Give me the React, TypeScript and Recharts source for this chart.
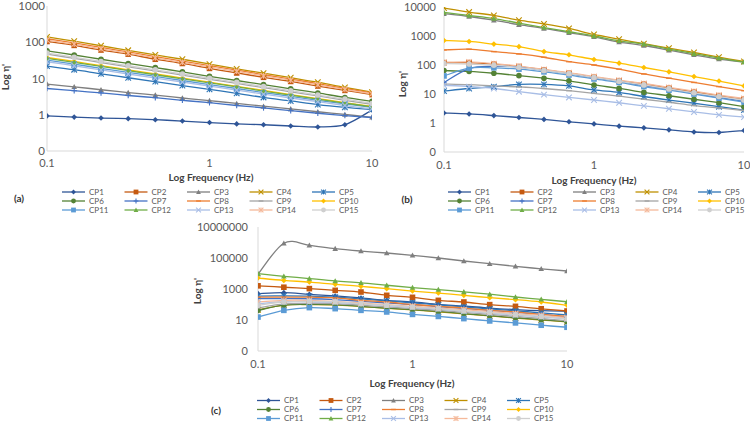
import React from 'react';
import { LineChart, Line, XAxis, YAxis } from 'recharts';

const FREQ = [0.1, 0.147, 0.215, 0.316, 0.464, 0.681, 1, 1.47, 2.15, 3.16, 4.64, 6.81, 10];
const X_TICKS = [0.1, 1, 10];
const NAMES = ['CP1', 'CP2', 'CP3', 'CP4', 'CP5', 'CP6', 'CP7', 'CP8', 'CP9', 'CP10', 'CP11', 'CP12', 'CP13', 'CP14', 'CP15'];
const COLORS = ['#2F5597', '#C55A11', '#7F7F7F', '#BF9000', '#2E75B6', '#548235', '#4472C4', '#ED7D31', '#A5A5A5', '#FFC000', '#5B9BD5', '#70AD47', '#A9BEE6', '#F5B99A', '#CFCFCF'];
const MARKERS = ['diamond', 'square', 'triangle', 'x', 'star', 'circle', 'plus', 'dash', 'dash', 'diamond', 'square', 'triangle', 'x', 'star', 'circle'];

// (a)
const aCP1 = [0.93, 0.86, 0.81, 0.78, 0.73, 0.67, 0.61, 0.56, 0.53, 0.49, 0.46, 0.53, 1.35];
const aCP2 = [105, 82, 61, 47, 34, 26, 19, 14.2, 10.8, 8.3, 6.2, 4.7, 3.6];
const aCP3 = [7.0, 5.9, 4.9, 4.1, 3.5, 2.9, 2.45, 2.05, 1.72, 1.45, 1.21, 1.02, 0.85];
const aCP4 = [140, 107, 80, 60, 45, 34, 25, 18.5, 14, 10.5, 7.9, 5.7, 4.2];
const aCP5 = [22, 17.5, 13.5, 10.5, 8.2, 6.4, 5.0, 3.9, 3.0, 2.4, 1.9, 1.6, 1.4];
const aCP6 = [58, 44.5, 34, 26, 20, 15.3, 11.5, 8.8, 6.8, 5.2, 4.0, 3.0, 2.35];
const aCP7 = [5.3, 4.6, 4.0, 3.4, 2.95, 2.5, 2.15, 1.8, 1.55, 1.3, 1.1, 0.95, 0.84];
const aCP8 = [125, 96, 72, 54, 40, 30, 22.5, 17, 12.7, 9.6, 7.2, 5.3, 4.0];
const aCP9 = [47, 36, 27.5, 21, 16.2, 12.4, 9.5, 7.3, 5.6, 4.3, 3.3, 2.5, 1.95];
const aCP10 = [38, 29.5, 22.5, 17.3, 13.3, 10.3, 7.9, 6.1, 4.7, 3.6, 2.8, 2.15, 1.7];
const aCP11 = [32, 25, 19, 14.8, 11.4, 8.8, 6.8, 5.3, 4.1, 3.2, 2.5, 2.0, 1.6];
const aCP12 = [36, 28, 21.5, 16.5, 12.7, 9.8, 7.6, 5.9, 4.5, 3.5, 2.7, 2.1, 1.65];
const aCP13 = [29, 22.5, 17.3, 13.3, 10.3, 8.0, 6.2, 4.8, 3.7, 2.9, 2.3, 1.8, 1.45];
const aCP14 = [115, 89, 66, 50, 37, 28, 21, 15.8, 11.8, 9.0, 6.7, 5.0, 3.8];
const aCP15 = [50, 38.5, 29.5, 22.5, 17.3, 13.3, 10.2, 7.8, 6.0, 4.6, 3.5, 2.7, 2.05];
const A_TICKS = [0.1, 1, 10, 100, 1000];

// (b)
const bCP1 = [2.2, 2.05, 1.8, 1.55, 1.33, 1.1, 0.93, 0.78, 0.68, 0.58, 0.49, 0.47, 0.55];
const bCP2 = [120, 120, 107, 88, 68, 52, 38, 28.5, 22, 16, 11.8, 8.7, 6.6];
const bCP3 = [5900, 4700, 3500, 2450, 1820, 1300, 940, 620, 470, 325, 225, 160, 126];
const bCP4 = [9200, 6700, 5100, 3500, 2600, 1820, 1130, 780, 540, 380, 270, 186, 132];
const bCP5 = [12.6, 15.5, 17.8, 21.5, 21.5, 19, 13.8, 11.3, 8.2, 6.2, 4.8, 3.65, 2.8];
const bCP6 = [64, 60, 52, 43, 35, 28.5, 20.5, 15.6, 11.4, 8.7, 6.6, 5.0, 3.65];
const bCP7 = [25, 75, 90, 85, 65, 50, 36, 27, 19.5, 14.5, 10.5, 7.6, 5.6];
const bCP8 = [330, 350, 290, 240, 185, 130, 100, 72, 49, 35, 25, 18, 13];
const bCP9 = [22, 21, 19, 17.5, 15.5, 13, 10.5, 8.5, 6.6, 5.2, 4.0, 3.3, 2.7];
const bCP10 = [700, 650, 525, 430, 290, 225, 155, 116, 82, 58, 40, 28, 19];
const bCP11 = [42, 78, 80, 72, 58, 45, 33, 25, 18, 13.5, 10, 7.2, 5.3];
const bCP12 = [6500, 5100, 4000, 2800, 1960, 1400, 1000, 680, 525, 355, 245, 173, 126];
const bCP13 = [20, 18, 15.5, 12, 9.5, 7.6, 6.2, 5.0, 3.9, 3.1, 2.4, 1.9, 1.6];
const bCP14 = [125, 128, 112, 92, 70, 54, 40, 30, 23, 17, 12.5, 9.2, 7.0];
const bCP15 = [112, 108, 98, 83, 65, 50, 37, 27.5, 20.5, 15, 11, 8.2, 6.2];
const B_TICKS = [0.1, 1, 10, 100, 1000, 10000];

// (c)
const cCP1 = [500, 580, 450, 355, 265, 185, 145, 102, 80, 59, 47, 40, 37];
const cCP2 = [1600, 1300, 1060, 820, 640, 390, 290, 185, 145, 98, 76, 53, 38];
const cCP3 = [9000, 900000, 660000, 400000, 280000, 210000, 148000, 100000, 64000, 43000, 29000, 20000, 14500];
const cCP4 = [45, 92, 100, 95, 74, 57, 45, 34, 25, 18.5, 13.5, 10, 7.5];
const cCP5 = [350, 360, 350, 300, 230, 170, 130, 95, 70, 52, 39, 29, 21];
const cCP6 = [42, 90, 102, 98, 76, 59, 47, 36, 26, 19, 14, 10.5, 7.8];
const cCP7 = [240, 240, 235, 205, 160, 125, 98, 73, 54, 42, 31, 23, 15.5];
const cCP8 = [300, 300, 300, 265, 185, 145, 100, 76, 59, 42, 33, 23, 17];
const cCP9 = [60, 110, 120, 115, 90, 70, 55, 42, 31, 23, 17, 12.5, 9];
const cCP10 = [5100, 3600, 2800, 2000, 1480, 1050, 740, 550, 390, 275, 205, 145, 89];
const cCP11 = [15.5, 42, 63, 54, 42, 33, 23, 17, 12.3, 8.7, 6.5, 4.6, 3.4];
const cCP12 = [9800, 6600, 4700, 3300, 2500, 1750, 1230, 920, 650, 460, 305, 215, 150];
const cCP13 = [110, 150, 150, 140, 110, 85, 65, 50, 37, 28, 21, 16, 12];
const cCP14 = [145, 185, 185, 160, 125, 98, 76, 59, 47, 35, 26, 20, 14];
const cCP15 = [90, 145, 160, 150, 112, 90, 69, 54, 38, 30, 22, 17, 12];
const C_TICKS = [0.1, 10, 1000, 100000, 10000000];

const SERIES_A = [aCP1, aCP2, aCP3, aCP4, aCP5, aCP6, aCP7, aCP8, aCP9, aCP10, aCP11, aCP12, aCP13, aCP14, aCP15];
const SERIES_B = [bCP1, bCP2, bCP3, bCP4, bCP5, bCP6, bCP7, bCP8, bCP9, bCP10, bCP11, bCP12, bCP13, bCP14, bCP15];
const SERIES_C = [cCP1, cCP2, cCP3, cCP4, cCP5, cCP6, cCP7, cCP8, cCP9, cCP10, cCP11, cCP12, cCP13, cCP14, cCP15];

const FONT = 'Lato, "Open Sans", sans-serif';

function buildRows(series: number[][]) {
  return FREQ.map((f, i) => {
    const row: Record<string, number> = { f };
    series.forEach((s, k) => {
      row[NAMES[k]] = s[i];
    });
    return row;
  });
}

// Excel-like smoothed line (Catmull-Rom through the points)
function excelSmooth(context: any) {
  let pts: [number, number][] = [];
  return {
    areaStart() {},
    areaEnd() {},
    lineStart() {
      pts = [];
    },
    lineEnd() {
      const n = pts.length;
      if (!n) return;
      context.moveTo(pts[0][0], pts[0][1]);
      for (let i = 0; i < n - 1; i++) {
        const p0 = pts[Math.max(0, i - 1)];
        const p1 = pts[i];
        const p2 = pts[i + 1];
        const p3 = pts[Math.min(n - 1, i + 2)];
        context.bezierCurveTo(
          p1[0] + (p2[0] - p0[0]) / 6,
          p1[1] + (p2[1] - p0[1]) / 6,
          p2[0] - (p3[0] - p1[0]) / 6,
          p2[1] - (p3[1] - p1[1]) / 6,
          p2[0],
          p2[1]
        );
      }
    },
    point(x: number, y: number) {
      pts.push([+x, +y]);
    },
  };
}

function Marker({ kind, cx, cy, color, s = 2.8 }: { kind: string; cx: number; cy: number; color: string; s?: number }) {
  switch (kind) {
    case 'diamond':
      return <polygon points={`${cx},${cy - s} ${cx + s},${cy} ${cx},${cy + s} ${cx - s},${cy}`} fill={color} />;
    case 'square':
      return <rect x={cx - s} y={cy - s} width={2 * s} height={2 * s} fill={color} />;
    case 'triangle':
      return <polygon points={`${cx},${cy - s} ${cx + s},${cy + s * 0.8} ${cx - s},${cy + s * 0.8}`} fill={color} />;
    case 'x':
      return (
        <g stroke={color} strokeWidth={1.1}>
          <line x1={cx - s} y1={cy - s} x2={cx + s} y2={cy + s} />
          <line x1={cx - s} y1={cy + s} x2={cx + s} y2={cy - s} />
        </g>
      );
    case 'star':
      return (
        <g stroke={color} strokeWidth={1.1}>
          <line x1={cx - s} y1={cy - s} x2={cx + s} y2={cy + s} />
          <line x1={cx - s} y1={cy + s} x2={cx + s} y2={cy - s} />
          <line x1={cx} y1={cy - s} x2={cx} y2={cy + s} />
        </g>
      );
    case 'circle':
      return <circle cx={cx} cy={cy} r={s} fill={color} />;
    case 'plus':
      return (
        <g stroke={color} strokeWidth={1.1}>
          <line x1={cx - s} y1={cy} x2={cx + s} y2={cy} />
          <line x1={cx} y1={cy - s} x2={cx} y2={cy + s} />
        </g>
      );
    default:
      return <line x1={cx - s} y1={cy} x2={cx + s} y2={cy} stroke={color} strokeWidth={1.4} />;
  }
}

type PanelProps = {
  left: number;
  top: number;
  W: number;
  H: number;
  mt: number;
  mr: number;
  yw: number;
  xh: number;
  yTicks: number[];
  series: number[][];
  yFont: number;
  yTickSize: number;
  xTickSize: number;
  xTickMargin: number;
};

function Panel(p: PanelProps) {
  const rows = buildRows(p.series);
  return (
    <div style={{ position: 'absolute', left: p.left, top: p.top }}>
      <LineChart width={p.W} height={p.H} data={rows} margin={{ top: p.mt, right: p.mr, bottom: 0, left: 0 }}>
        <XAxis
          dataKey="f"
          type="number"
          scale="log"
          domain={[0.1, 10]}
          ticks={X_TICKS}
          allowDataOverflow
          height={p.xh}
          tickLine={false}
          tickSize={p.xTickSize}
          tickMargin={p.xTickMargin}
          axisLine={{ stroke: '#D9D9D9' }}
          tick={{ fontFamily: FONT, fontSize: 11, fill: '#595959' }}
          tickFormatter={(v: number) => String(v)}
        />
        <YAxis
          type="number"
          scale="log"
          domain={[p.yTicks[0], p.yTicks[p.yTicks.length - 1]]}
          ticks={p.yTicks}
          allowDataOverflow
          width={p.yw}
          tickLine={false}
          tickSize={p.yTickSize}
          tickMargin={0}
          axisLine={{ stroke: '#D9D9D9' }}
          tick={{ fontFamily: FONT, fontSize: p.yFont, fill: '#595959' }}
          tickFormatter={(v: number) => (v < 1 ? '0' : String(v))}
        />
        {NAMES.map((name, k) => (
          <Line
            key={name}
            dataKey={name}
            type={excelSmooth as any}
            stroke={COLORS[k]}
            strokeWidth={1.3}
            isAnimationActive={false}
            activeDot={false}
            dot={(d: any) => (
              <Marker key={`${name}-${d.index}`} kind={MARKERS[k]} cx={d.cx} cy={d.cy} color={COLORS[k]} />
            )}
          />
        ))}
      </LineChart>
    </div>
  );
}

function LegendBlock({ x0, rowsY }: { x0: number; rowsY: number[] }) {
  const items: React.ReactNode[] = [];
  NAMES.forEach((name, k) => {
    const col = k % 5;
    const row = Math.floor(k / 5);
    const x = x0 + col * 62.5;
    const y = rowsY[row];
    items.push(
      <g key={name}>
        <line x1={x} y1={y} x2={x + 23} y2={y} stroke={COLORS[k]} strokeWidth={1.3} />
        <Marker kind={MARKERS[k]} cx={x + 11.5} cy={y} color={COLORS[k]} s={2.4} />
        <text x={x + 27} y={y} dy="0.34em" fontFamily={FONT} fontSize={8} fill="#595959">
          {name}
        </text>
      </g>
    );
  });
  return <g>{items}</g>;
}

export default function App() {
  const titleStyle = { fontFamily: FONT, fontSize: 10, fontWeight: 700, fill: '#404040' } as const;
  return (
    <div style={{ position: 'absolute', left: 0, top: 0, width: 750, height: 424, background: '#fff' }}>
      <Panel left={0} top={0} W={380} H={172} mt={6} mr={8} yw={47} xh={21} yTicks={A_TICKS} series={SERIES_A} yFont={11.5} yTickSize={2} xTickSize={5} xTickMargin={3} />
      <Panel left={375} top={0} W={375} H={172} mt={7} mr={6} yw={69} xh={20} yTicks={B_TICKS} series={SERIES_B} yFont={11} yTickSize={8} xTickSize={6} xTickMargin={3} />
      <Panel left={180} top={200} W={397} H={171} mt={27} mr={10} yw={78} xh={20} yTicks={C_TICKS} series={SERIES_C} yFont={11} yTickSize={10} xTickSize={6} xTickMargin={3} />
      <svg width={750} height={424} style={{ position: 'absolute', left: 0, top: 0, pointerEvents: 'none' }}>
        <text x={211} y={177} dy="0.35em" textAnchor="middle" {...titleStyle}>Log Frequency (Hz)</text>
        <text x={594} y={180} dy="0.35em" textAnchor="middle" {...titleStyle}>Log Frequency (Hz)</text>
        <text x={412} y={383} dy="0.35em" textAnchor="middle" {...titleStyle}>Log Frequency (Hz)</text>
        <text transform="translate(5,77) rotate(-90)" dy="0.35em" textAnchor="middle" {...titleStyle}>Log η'</text>
        <text transform="translate(402,84) rotate(-90)" dy="0.35em" textAnchor="middle" {...titleStyle}>Log η'</text>
        <text transform="translate(197,291) rotate(-90)" dy="0.35em" textAnchor="middle" {...titleStyle}>Log η'</text>
        <text x={19} y={198} dy="0.35em" textAnchor="middle" fontFamily={FONT} fontSize={10} fontWeight={700} fill="#333">(a)</text>
        <text x={407} y={199} dy="0.35em" textAnchor="middle" fontFamily={FONT} fontSize={10} fontWeight={700} fill="#333">(b)</text>
        <text x={216} y={410} dy="0.35em" textAnchor="middle" fontFamily={FONT} fontSize={10} fontWeight={700} fill="#333">(c)</text>
        <LegendBlock x0={62} rowsY={[192, 201, 210]} />
        <LegendBlock x0={448} rowsY={[192, 201, 210]} />
        <LegendBlock x0={257} rowsY={[400.5, 409.5, 418.5]} />
      </svg>
    </div>
  );
}
